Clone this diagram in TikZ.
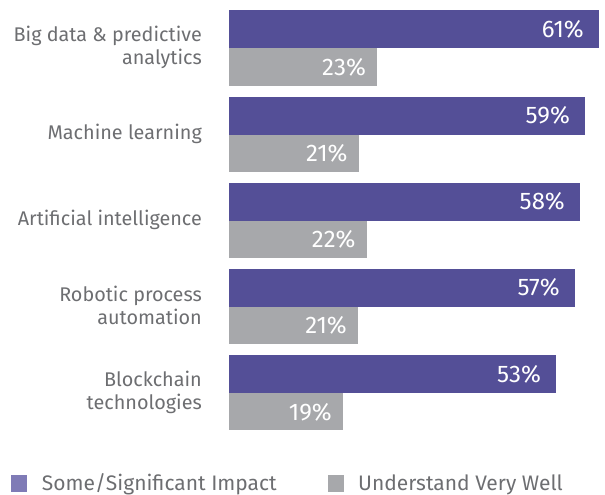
\documentclass[tikz,border=0pt]{standalone}
\usepackage{fontspec}
\setmainfont{Fira Sans}
\definecolor{barpurple}{HTML}{544F97}
\definecolor{bargray}{HTML}{A7A8AB}
\definecolor{legpurple}{HTML}{7F7BB6}
\definecolor{txtgray}{HTML}{6D6E71}
\begin{document}
\begin{tikzpicture}[x=1pt,y=-1pt,
  lab/.style={anchor=east,align=right,inner sep=0pt,text=txtgray,font=\fontsize{19.8}{23}\selectfont},
  pct/.style={anchor=east,inner sep=0pt,text=white,font=\fontsize{24}{28}\selectfont},
  legtxt/.style={anchor=base west,inner sep=0pt,text=txtgray,font=\fontsize{21}{24}\selectfont}]
\useasboundingbox (0,0) rectangle (605,495);
\foreach \i/\lbl/\pv/\pe/\gv/\ge in {
  0/{Big data \& predictive\\analytics}/61/599/23/377,
  1/{Machine learning}/59/585/21/358.7,
  2/{Artificial intelligence}/58/580/22/366.7,
  3/{Robotic process\\automation}/57/575/21/358,
  4/{Blockchain\\technologies}/53/556/19/343}{
  \pgfmathsetmacro{\t}{10.5+86.1*\i}
  \fill[barpurple] (229,\t) rectangle (\pe,\t+38);
  \fill[bargray] (229,\t+38) rectangle (\ge,\t+75.5);
  \node[pct] (p\i) at (\pe-15,\t+19) {\pv\%};
  \node[pct] (g\i) at (\ge-11,\t+57) {\gv\%};
  \node[lab] (l\i) at (202,\t+37) {\lbl};
}
\fill[legpurple] (11,474.5) rectangle (27,491.5);
\node[legtxt] (leg1) at (41.7,490) {Some/Significant Impact};
\fill[bargray] (328,474.5) rectangle (344,491.5);
\node[legtxt] (leg2) at (358,490) {Understand Very Well};
\end{tikzpicture}
\end{document}
